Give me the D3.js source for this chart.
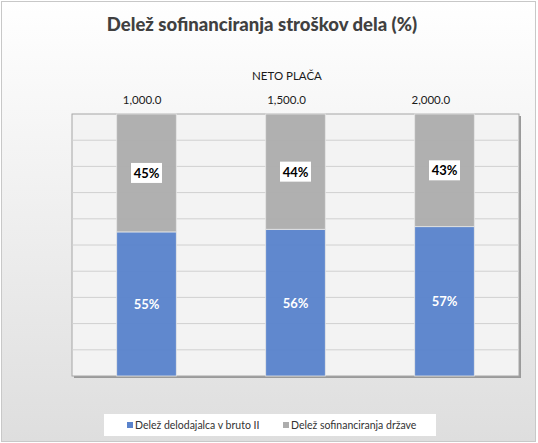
<!DOCTYPE html>
<html>
<head>
<meta charset="utf-8">
<script src="https://cdn.jsdelivr.net/npm/d3@7"></script>
<style>
  body { margin: 0; background: #fff; }
  svg { display: block; }
</style>
</head>
<body>
<div id="chart"></div>
<script>
// Data
const categories = ["1,000.0", "1,500.0", "2,000.0"];
const employerShare = [55, 56, 57];
const stateShare = [45, 44, 43];
const seriesNames = ["Delež delodajalca v bruto II", "Delež sofinanciranja države"];
const yTicks = [0, 10, 20, 30, 40, 50, 60, 70, 80, 90, 100];

const width = 538, height = 443;
const plot = {left: 72, right: 519, top: 114, bottom: 376};

const svg = d3.select("#chart").append("svg")
    .attr("width", width)
    .attr("height", height);

// background gradient like the spreadsheet chart
const defs = svg.append("defs");
const grad = defs.append("linearGradient")
    .attr("id", "bg").attr("x1", 0).attr("y1", 0).attr("x2", 0).attr("y2", 1);
grad.append("stop").attr("offset", "0%").attr("stop-color", "#ffffff");
grad.append("stop").attr("offset", "100%").attr("stop-color", "#dedede");

svg.append("rect")
    .attr("x", 1.5).attr("y", 1.5)
    .attr("width", width - 4).attr("height", height - 3)
    .attr("fill", "url(#bg)")
    .attr("stroke", "#c8c8c8");

// title
svg.append("text")
    .attr("x", 262).attr("y", 31)
    .attr("text-anchor", "middle")
    .attr("font-family", "Lato, 'Open Sans', sans-serif")
    .attr("font-weight", "900")
    .attr("font-size", 18.5)
    .attr("fill", "#404040")
    .text("Delež sofinanciranja stroškov dela (%)");

// scales
const x = d3.scaleBand()
    .domain(categories)
    .range([plot.left, plot.right])
    .paddingInner(0.6)
    .paddingOuter(0.3);

// top category axis sits slightly narrower than the bars
const xTop = d3.scaleBand()
    .domain(categories)
    .range([70, 503]);

const y = d3.scaleLinear()
    .domain([0, 100])
    .range([plot.bottom, plot.top]);

// plot area with a soft shadow
svg.append("rect")
    .attr("x", plot.left + 2).attr("y", plot.top + 2)
    .attr("width", plot.right - plot.left).attr("height", plot.bottom - plot.top)
    .attr("fill", "#9a9a9a");
svg.append("rect")
    .attr("x", plot.left).attr("y", plot.top)
    .attr("width", plot.right - plot.left).attr("height", plot.bottom - plot.top)
    .attr("fill", "#f3f3f3")
    .attr("stroke", "#a6a6a6");

// gridlines
svg.append("g")
    .selectAll("line")
    .data(yTicks.slice(1, -1))
    .join("line")
    .attr("x1", plot.left).attr("x2", plot.right)
    .attr("y1", d => y(d)).attr("y2", d => y(d))
    .attr("stroke", "#d0d0d0")
    .attr("stroke-width", 1);

// stacked data
const rows = categories.map((c, i) => ({cat: c, employer: employerShare[i], state: stateShare[i]}));
const stack = d3.stack().keys(["employer", "state"]);
const series = stack(rows);
const colors = ["#5a83cc", "#adadad"];

svg.append("g")
    .selectAll("g")
    .data(series)
    .join("g")
    .attr("fill", (d, i) => colors[i])
    .selectAll("rect")
    .data(d => d)
    .join("rect")
    .attr("x", d => x(d.data.cat))
    .attr("width", x.bandwidth())
    .attr("y", d => y(d[1]))
    .attr("height", d => y(d[0]) - y(d[1]))
    .attr("fill-opacity", 0.96)
    .attr("stroke", "#e6e6e6")
    .attr("stroke-width", 0.8);

// labels on blue segments
const labelFont = "Lato, 'Open Sans', sans-serif";
svg.append("g")
    .selectAll("text")
    .data(series[0])
    .join("text")
    .attr("x", d => x(d.data.cat) + x.bandwidth() / 2)
    .attr("y", d => (y(d[0]) + y(d[1])) / 2 + 5)
    .attr("text-anchor", "middle")
    .attr("font-family", labelFont)
    .attr("font-weight", "bold")
    .attr("font-size", 13)
    .attr("fill", "#ffffff")
    .text(d => d.data.employer + "%");

// labels on gray segments, in white boxes
const grayLabels = svg.append("g")
    .selectAll("g")
    .data(series[1])
    .join("g")
    .attr("transform", d => `translate(${x(d.data.cat) + x.bandwidth() / 2},${(y(d[0]) + y(d[1])) / 2})`);
grayLabels.append("rect")
    .attr("x", -15.5).attr("y", -10)
    .attr("width", 31).attr("height", 20)
    .attr("fill", "#ffffff");
grayLabels.append("text")
    .attr("y", 5)
    .attr("text-anchor", "middle")
    .attr("font-family", labelFont)
    .attr("font-weight", "bold")
    .attr("font-size", 13)
    .attr("fill", "#000000")
    .text(d => d.data.state + "%");

// top axis
const topAxis = svg.append("g")
    .attr("transform", "translate(0,104)")
    .call(d3.axisTop(xTop).tickSize(0).tickPadding(0));
topAxis.select(".domain").remove();
topAxis.selectAll("text")
    .attr("font-family", labelFont)
    .attr("font-size", 11.5)
    .attr("fill", "#1a1a1a");

svg.append("text")
    .attr("x", 287).attr("y", 80)
    .attr("text-anchor", "middle")
    .attr("font-family", labelFont)
    .attr("font-size", 11.5)
    .attr("fill", "#1a1a1a")
    .text("NETO PLAČA");

// legend
const legend = svg.append("g");
legend.append("rect")
    .attr("x", 104).attr("y", 414)
    .attr("width", 332).attr("height", 22)
    .attr("fill", "#ffffff");
const legendX = [127, 283];
const items = legend.selectAll("g")
    .data(seriesNames)
    .join("g")
    .attr("transform", (d, i) => `translate(${legendX[i]},425)`);
items.append("rect")
    .attr("x", 0).attr("y", -3)
    .attr("width", 6).attr("height", 6)
    .attr("fill", (d, i) => colors[i]);
items.append("text")
    .attr("x", 8).attr("y", 4)
    .attr("font-family", labelFont)
    .attr("font-size", 10.5)
    .attr("fill", "#333333")
    .text(d => d);
</script>
</body>
</html>
